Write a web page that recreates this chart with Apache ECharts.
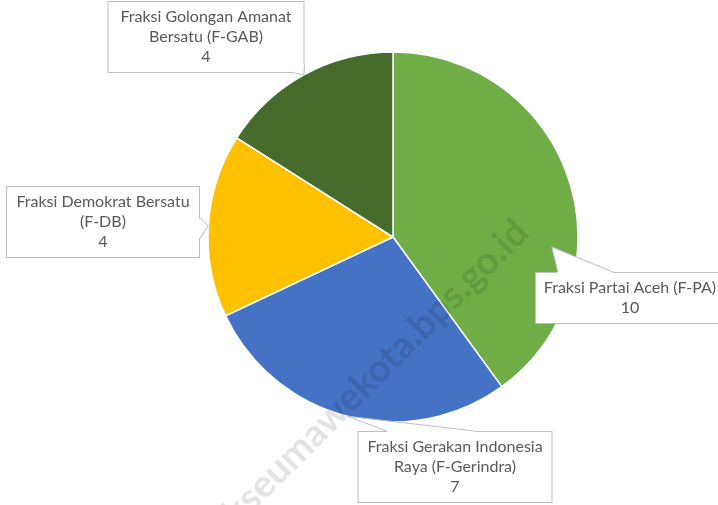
<!DOCTYPE html>
<html>
<head>
<meta charset="utf-8">
<script src="https://cdn.jsdelivr.net/npm/echarts@6/dist/echarts.min.js"></script>
<style>
  html, body { margin: 0; padding: 0; background: #fff; }
  #main { width: 718px; height: 505px; }
</style>
</head>
<body>
<div id="main"></div>
<script>
// data kursi per fraksi
const fraksi = [
  'Fraksi Partai Aceh (F-PA)',
  'Fraksi Gerakan Indonesia\nRaya (F-Gerindra)',
  'Fraksi Demokrat Bersatu\n(F-DB)',
  'Fraksi Golongan Amanat\nBersatu (F-GAB)'
];
const kursi = [10, 7, 4, 4];
const warna = ['#70ad47', '#4472c4', '#ffc000', '#456c2c'];

// posisi tengah & lebar kotak label (callout)
const posLabel = [[630, 298], [455, 467], [103, 222], [206, 37]];
const lebarLabel = [176, 181, 180, 183];
// pangkal "ekor" callout: [sisi, fraksi sepanjang sisi]
const ekor = [
  [['top', 0.12], ['top', 0.41]],
  [['top', 0.15], ['top', 0.6]],
  [['right', 0.45], ['right', 0.73]],
  [['right', 0.88], ['bottom', 0.95]]
];

const pusat = [393, 237], jari = 185;
const kotak = [];

let myChart = echarts.init(document.getElementById('main'));

function titikSisi(r, s, masuk) {
  const [sisi, f] = s;
  const d = masuk ? 2 : 0;
  if (sisi === 'top') return [r.x + r.width * f, r.y + d];
  if (sisi === 'bottom') return [r.x + r.width * f, r.y + r.height - d];
  if (sisi === 'left') return [r.x + d, r.y + r.height * f];
  return [r.x + r.width - d, r.y + r.height * f];
}

myChart.setOption({
  animation: false,
  series: [{
    type: 'pie',
    center: pusat,
    radius: jari,
    startAngle: 90,
    clockwise: true,
    itemStyle: { borderColor: '#fff', borderWidth: 1.5 },
    data: fraksi.map((n, i) => ({
      name: n,
      value: kursi[i],
      itemStyle: { color: warna[i] },
      label: { width: lebarLabel[i] }
    })),
    label: {
      show: true,
      formatter: '{b}\n{c}',
      fontFamily: 'Lato',
      fontSize: 16,
      lineHeight: 20,
      color: '#595959',
      align: 'center',
      backgroundColor: '#fff',
      borderColor: '#bfbfbf',
      borderWidth: 1,
      padding: [5, 6, 5, 6]
    },
    labelLine: { show: false },
    labelLayout: function (p) {
      const i = p.dataIndex;
      const pos = posLabel[i];
      const w = p.labelRect.width, h = p.labelRect.height;
      kotak[i] = { x: pos[0] - w / 2, y: pos[1] - h / 2, width: w, height: h };
      return { x: pos[0], y: pos[1], align: 'center', verticalAlign: 'middle' };
    }
  }]
});

// ekor callout: dari kotak label ke tepi irisan (sudut tengah)
const total = kursi.reduce((a, b) => a + b, 0);
let kum = 0;
const grafik = [];
kursi.forEach((v, i) => {
  let sudut = (90 - 360 * (kum + v / 2) / total) * Math.PI / 180;
  let rr = jari;
  kum += v;
  if (i === 0) { sudut = -3.6 * Math.PI / 180; rr = jari * 0.86; }
  const tip = [pusat[0] + rr * Math.cos(sudut), pusat[1] - rr * Math.sin(sudut)];
  const r = kotak[i];
  if (!r) return;
  const b1 = titikSisi(r, ekor[i][0]), b2 = titikSisi(r, ekor[i][1]);
  grafik.push({
    type: 'polygon', z: 5,
    shape: { points: [titikSisi(r, ekor[i][0], true), b1, tip, b2, titikSisi(r, ekor[i][1], true)] },
    style: { fill: '#fff', stroke: null }
  });
  grafik.push({
    type: 'polyline', z: 6,
    shape: { points: [b1, tip, b2] },
    style: { stroke: '#bfbfbf', lineWidth: 1, fill: null }
  });
});
// watermark
grafik.push({
  type: 'text',
  x: 522,
  y: 226,
  rotation: 0.785,
  z: 10,
  style: {
    text: 'lhokseumawekota.bps.go.id',
    font: 'bold 38px Lato',
    fill: 'rgba(0,0,0,0.11)',
    align: 'right',
    verticalAlign: 'middle'
  }
});
myChart.setOption({ graphic: grafik });
</script>
</body>
</html>
